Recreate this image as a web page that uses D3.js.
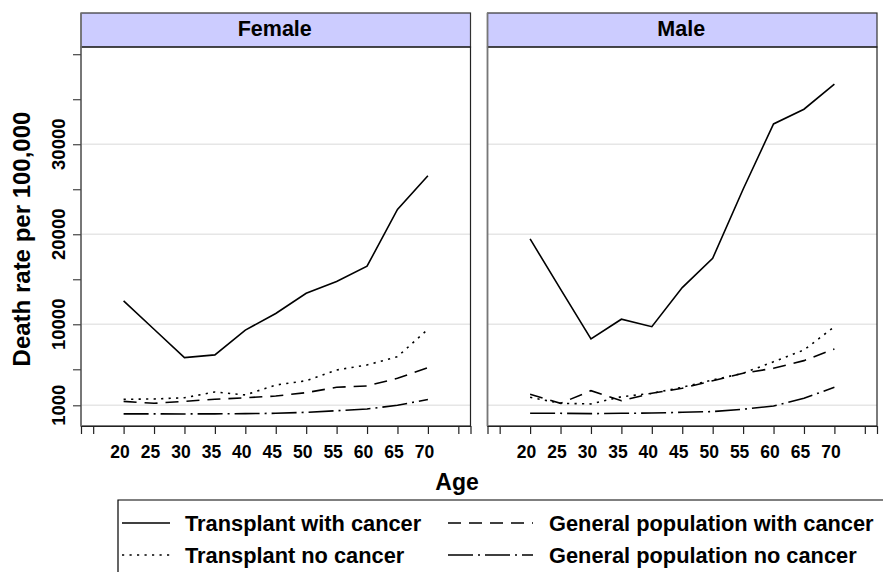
<!DOCTYPE html>
<html>
<head>
<meta charset="utf-8">
<script src="https://cdn.jsdelivr.net/npm/d3@7/dist/d3.min.js"></script>
<style>
  html, body { margin: 0; padding: 0; background: #fff; }
  svg { display: block; }
  text { font-family: "Liberation Sans", Arial, Helvetica, sans-serif; font-weight: bold; fill: #000; }
</style>
</head>
<body>
<svg id="chart" width="883" height="572"></svg>
<script>
// ---------------- data ----------------
const ages = [20, 25, 30, 35, 40, 45, 50, 55, 60, 65, 70];
const panelNames = ["Female", "Male"];
const seriesNames = ["Transplant with cancer", "Transplant no cancer", "General population with cancer", "General population no cancer"];

const femaleTransplantCancer   = [12600, 9450, 6300, 6600, 9350, 11200, 13450, 14750, 16450, 22750, 26500];
const femaleTransplantNoCancer = [1670, 1700, 1840, 2480, 2150, 3250, 3730, 4920, 5480, 6400, 9440];
const femaleGeneralCancer      = [1440, 1220, 1440, 1670, 1840, 2030, 2400, 3000, 3150, 4000, 5180];
const femaleGeneralNoCancer    = [50, 50, 40, 50, 70, 110, 220, 400, 590, 1000, 1650];

const maleTransplantCancer     = [19480, 13900, 8370, 10560, 9730, 14070, 17330, 25000, 32250, 33890, 36670];
const maleTransplantNoCancer   = [1890, 1220, 1150, 1950, 2330, 3000, 3810, 4560, 5840, 7140, 9730];
const maleGeneralCancer        = [2220, 1220, 2620, 1510, 2330, 2890, 3730, 4560, 5110, 5960, 7260];
const maleGeneralNoCancer      = [110, 110, 70, 110, 140, 220, 300, 560, 920, 1780, 3000];

const xTicks = [15, 20, 25, 30, 35, 40, 45, 50, 55, 60, 65, 70, 75];
const xTickLabels = [20, 25, 30, 35, 40, 45, 50, 55, 60, 65, 70];
const yTicks = [1000, 5000, 10000, 15000, 20000, 25000, 30000, 35000, 40000];
const yTickLabels = [1000, 10000, 20000, 30000];
const yTitle = "Death rate per 100,000";
const xTitle = "Age";

// ---------------- build ----------------
const panelData = {
  Female: [femaleTransplantCancer, femaleTransplantNoCancer, femaleGeneralCancer, femaleGeneralNoCancer],
  Male:   [maleTransplantCancer, maleTransplantNoCancer, maleGeneralCancer, maleGeneralNoCancer]
};
const dashes = ["none", "2.2,5.3", "13,8", "25,5,2,5"];

const svg = d3.select("#chart");
const plotTop = 47, plotBottom = 426, stripTop = 13;
const panelX = { Female: [81, 470.5], Male: [487.5, 877] };

const y = d3.scaleLinear().domain([-1300, 40800]).range([plotBottom, plotTop]);

panelNames.forEach((name, pi) => {
  const [x0, x1] = panelX[name];
  const x = d3.scaleLinear().domain([13, 77]).range([x0, x1]);
  const g = svg.append("g");

  // gridlines
  g.selectAll("line.grid").data(yTickLabels).join("line")
    .attr("class", "grid")
    .attr("x1", x0).attr("x2", x1)
    .attr("y1", d => y(d)).attr("y2", d => y(d))
    .attr("stroke", "#e6e6e6").attr("stroke-width", 1.6);

  // strip
  g.append("rect").attr("x", x0).attr("y", stripTop).attr("width", x1 - x0).attr("height", plotTop - stripTop)
    .attr("fill", "#ccccff").attr("stroke", "#333").attr("stroke-width", 1.2);
  g.append("text").attr("x", (x0 + x1) / 2 - 1).attr("y", 36).attr("text-anchor", "middle")
    .style("font-size", "21.5px").text(name);

  // panel frame
  g.append("rect").attr("x", x0).attr("y", plotTop).attr("width", x1 - x0).attr("height", plotBottom - plotTop)
    .attr("fill", "none").attr("stroke", "#222").attr("stroke-width", 1.2);
  g.append("line").attr("x1", x0).attr("x2", x0).attr("y1", stripTop).attr("y2", plotBottom)
    .attr("stroke", "#777").attr("stroke-width", 1.6);

  // x axis
  const xa = g.append("g").attr("transform", `translate(0,${plotBottom})`)
    .call(d3.axisBottom(x).tickValues(xTicks).tickSize(8).tickFormat(d => xTickLabels.includes(d) ? d : ""));
  xa.select(".domain").attr("stroke", "#222").attr("stroke-width", 1.2);
  xa.selectAll(".tick line").attr("stroke", "#222").attr("stroke-width", 1.2);
  xa.selectAll(".tick text").attr("y", 31.5).attr("dy", 0).attr("dx", -4)
    .style("font-size", "17.5px").style("font-family", "'Liberation Sans', Arial, sans-serif").style("font-weight", "bold");

  // y axis (left panel only)
  if (pi === 0) {
    const ya = g.append("g").attr("transform", `translate(${x0},0)`)
      .call(d3.axisLeft(y).tickValues(yTicks).tickSize(8).tickFormat(""));
    ya.select(".domain").remove();
    ya.selectAll(".tick line").attr("stroke", "#444").attr("stroke-width", 1.2);
    g.selectAll("text.ylab").data(yTickLabels).join("text")
      .attr("class", "ylab")
      .attr("transform", d => `translate(65,${y(d)}) rotate(-90)`)
      .attr("text-anchor", "middle")
      .style("font-size", "18.5px")
      .text(d => d);
  }

  // series lines
  const line = d3.line().x((d, i) => x(ages[i])).y(d => y(d));
  panelData[name].forEach((vals, si) => {
    g.append("path").datum(vals).attr("d", line)
      .attr("fill", "none").attr("stroke", "#000").attr("stroke-width", 1.6)
      .attr("stroke-dasharray", dashes[si]);
  });
});

// axis titles
svg.append("text").attr("transform", "translate(29.5,239) rotate(-90)").attr("text-anchor", "middle")
  .style("font-size", "24px").text(yTitle);
svg.append("text").attr("x", 457).attr("y", 490).attr("text-anchor", "middle")
  .style("font-size", "23px").text(xTitle);

// legend
const lg = svg.append("g");
lg.append("path").attr("d", "M118,580 V500 H890").attr("fill", "none").attr("stroke", "#000").attr("stroke-width", 1.2);
const legendPos = [
  { lx: [122, 170], tx: 185, ty: 523 },
  { lx: [122, 170], tx: 185, ty: 555 },
  { lx: [448, 533], tx: 549, ty: 523 },
  { lx: [448, 533], tx: 549, ty: 555 }
];
seriesNames.forEach((s, i) => {
  const p = legendPos[i];
  lg.append("line").attr("x1", p.lx[0]).attr("x2", p.lx[1]).attr("y1", p.ty).attr("y2", p.ty)
    .attr("stroke", "#000").attr("stroke-width", 1.6).attr("stroke-dasharray", dashes[i]);
  lg.append("text").attr("x", p.tx).attr("y", p.ty + 8).style("font-size", "21.8px").text(s);
});
</script>
</body>
</html>
